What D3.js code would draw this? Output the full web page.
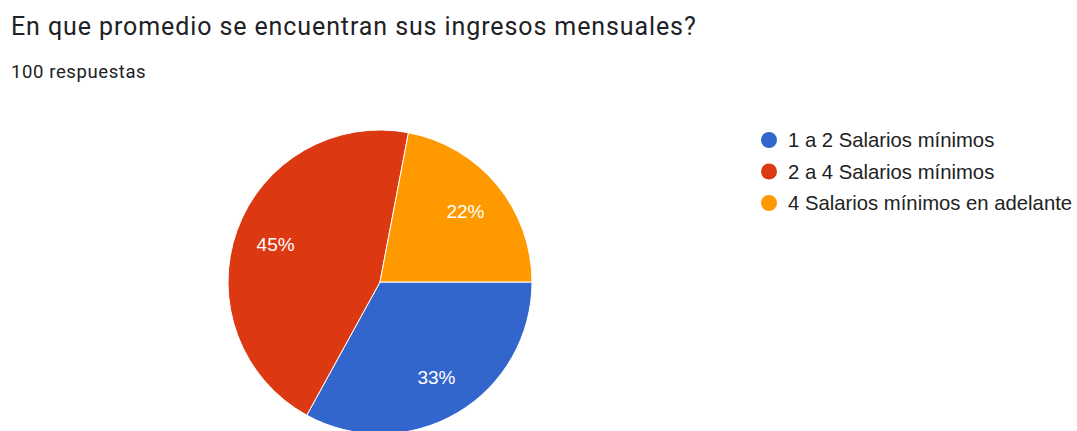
<!DOCTYPE html>
<html>
<head>
<meta charset="utf-8">
<script src="https://cdn.jsdelivr.net/npm/d3@7"></script>
<style>
html,body{margin:0;padding:0;background:#fff;}
svg{display:block;}
</style>
</head>
<body>
<svg id="chart" width="1077" height="431"></svg>
<script>
const title = "En que promedio se encuentran sus ingresos mensuales?";
const subtitle = "100 respuestas";
const categories = ["1 a 2 Salarios mínimos", "2 a 4 Salarios mínimos", "4 Salarios mínimos en adelante"];
const values = [33, 45, 22];
const colors = ["#3366cc", "#dc3912", "#ff9900"];

const svg = d3.select("#chart");

svg.append("text").attr("x", 11).attr("y", 35)
  .attr("font-family", "Roboto, sans-serif").attr("font-size", 25)
  .attr("letter-spacing", "0.9px")
  .attr("fill", "#202124").text(title);
svg.append("text").attr("x", 11).attr("y", 78)
  .attr("font-family", "Roboto, sans-serif").attr("font-size", 18.5)
  .attr("letter-spacing", "0.6px")
  .attr("fill", "#202124").text(subtitle);

const cx = 380, cy = 282, r = 152;
const data = categories.map((c, i) => ({cat: c, value: values[i], color: colors[i]}));
const pie = d3.pie().value(d => d.value).sort(null)
  .startAngle(Math.PI / 2).endAngle(Math.PI / 2 + 2 * Math.PI);
const arcs = pie(data);
const arc = d3.arc().innerRadius(0).outerRadius(r);
const labelArc = d3.arc().innerRadius(r * 0.73).outerRadius(r * 0.73);
const total = d3.sum(values);

const g = svg.append("g").attr("transform", `translate(${cx},${cy})`);
g.selectAll("path").data(arcs).join("path")
  .attr("d", arc).attr("fill", d => d.data.color)
  .attr("stroke", "#fff").attr("stroke-width", 1);
g.selectAll("text").data(arcs).join("text")
  .attr("transform", d => `translate(${labelArc.centroid(d)})`)
  .attr("text-anchor", "middle").attr("dy", "0.36em")
  .attr("font-family", "Arial, 'Liberation Sans', sans-serif").attr("font-size", 19)
  .attr("fill", "#fff")
  .text(d => Math.round(d.data.value / total * 100) + "%");

const legend = svg.append("g");
const ly = d3.scalePoint().domain(categories).range([140, 203]);
const items = legend.selectAll("g").data(data).join("g")
  .attr("transform", d => `translate(769,${ly(d.cat)})`);
items.append("circle").attr("r", 8).attr("fill", d => d.color);
items.append("text").attr("x", 19).attr("dy", "0.35em")
  .attr("font-family", "Arial, 'Liberation Sans', sans-serif").attr("font-size", 20.3)
  .attr("fill", "#222").text(d => d.cat);
</script>
</body>
</html>
